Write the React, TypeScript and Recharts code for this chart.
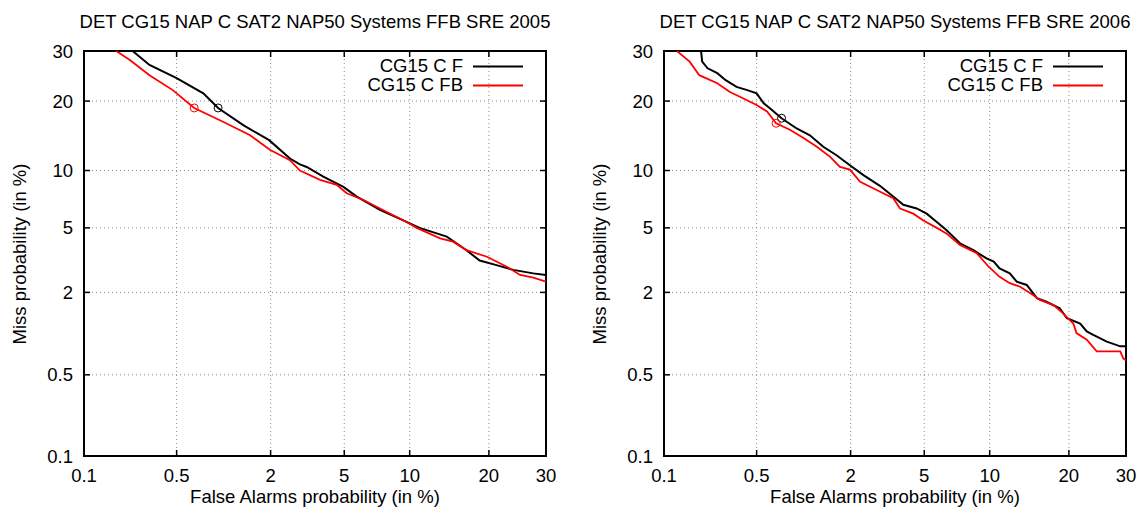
import React from "react";
import {
  ComposedChart,
  Line,
  Scatter,
  XAxis,
  YAxis,
  CartesianGrid,
  ReferenceArea,
  ReferenceLine,
} from "recharts";

// probability labels (in %) used on both axes
const TICK_LABELS = [0.1, 0.5, 2, 5, 10, 20, 30];

// SRE 2005 — false alarm % / miss %
const fa05F = [0.24, 0.32, 0.5, 0.76, 0.95, 1.37, 1.96, 2.58, 2.93, 3.19, 3.91, 4.95, 5.76, 7.4, 9.7, 11.0, 14.1, 16.7, 18.6, 21.2, 24.0, 27.6, 30];
const miss05F = [30, 27.0, 24.3, 21.4, 18.8, 16.0, 13.8, 11.4, 10.7, 10.4, 9.33, 8.3, 7.4, 6.3, 5.4, 5.0, 4.45, 3.7, 3.2, 3.0, 2.8, 2.66, 2.6];
const fa05FB = [0.18, 0.23, 0.32, 0.47, 0.66, 1.03, 1.51, 1.98, 2.58, 2.93, 3.76, 4.58, 5.14, 6.2, 7.4, 9.7, 10.7, 13.3, 14.9, 16.7, 19.7, 22.9, 25.2, 27.6, 30];
const miss05FB = [30, 28.0, 24.9, 22.0, 18.8, 16.5, 14.5, 12.5, 11.2, 10.0, 9.0, 8.5, 7.7, 7.1, 6.4, 5.4, 5.0, 4.35, 4.16, 3.7, 3.38, 2.93, 2.6, 2.5, 2.35];

// SRE 2006
const fa06F = [0.196, 0.2, 0.22, 0.26, 0.3, 0.36, 0.43, 0.5, 0.56, 0.62, 0.74, 0.93, 1.13, 1.37, 1.65, 1.98, 2.37, 2.93, 3.46, 3.91, 4.58, 5.14, 5.76, 6.4, 7.4, 8.5, 9.7, 10.4, 11.0, 12.1, 12.9, 14.1, 15.4, 16.7, 18.6, 19.7, 21.8, 22.9, 24.0, 26.4, 28.9, 30];
const miss06F = [30, 27.7, 26.3, 25.3, 23.9, 22.6, 22.0, 21.4, 19.6, 18.7, 17.1, 15.5, 14.5, 12.9, 11.8, 10.6, 9.5, 8.4, 7.4, 6.7, 6.4, 6.0, 5.4, 4.86, 4.07, 3.7, 3.3, 3.15, 2.86, 2.66, 2.35, 2.24, 1.83, 1.73, 1.56, 1.33, 1.22, 1.07, 1.01, 0.9, 0.83, 0.83];
const fa06FB = [0.127, 0.16, 0.19, 0.26, 0.32, 0.4, 0.5, 0.59, 0.68, 0.84, 1.03, 1.25, 1.51, 1.73, 1.98, 2.27, 2.81, 3.46, 3.76, 4.4, 4.95, 5.76, 6.4, 7.4, 8.8, 9.9, 11.0, 12.1, 13.3, 14.9, 15.8, 17.7, 19.1, 20.7, 21.2, 22.9, 24.6, 28.9, 29.5, 30];
const miss06FB = [30, 27.7, 24.9, 23.3, 21.7, 20.5, 19.3, 18.2, 16.3, 15.3, 14.1, 12.9, 11.6, 10.4, 10.1, 8.8, 8.0, 7.25, 6.4, 6.0, 5.5, 5.0, 4.65, 3.98, 3.55, 2.93, 2.53, 2.3, 2.18, 1.92, 1.78, 1.64, 1.44, 1.22, 1.04, 0.93, 0.76, 0.76, 0.67, 0.65];

// min-cost operating points (circles)
const dcf05 = { F: [0.95, 18.8], FB: [0.66, 18.8] };
const dcf06 = { F: [0.74, 17.1], FB: [0.68, 16.3] };

const FONT = "'Liberation Sans', Arial, Helvetica, sans-serif";
const FS = 18.5;

// inverse normal CDF (Acklam), input in percent
function probit(pct: number): number {
  const p = pct / 100;
  const a = [-39.69683028665376, 220.9460984245205, -275.9285104469687, 138.357751867269, -30.66479806614716, 2.506628277459239];
  const b = [-54.47609879822406, 161.5858368580409, -155.6989798598866, 66.80131188771972, -13.28068155288572];
  const c = [-0.007784894002430293, -0.3223964580411365, -2.400758277161838, -2.549732539343734, 4.374664141464968, 2.938163982698783];
  const d = [0.007784695709041462, 0.3224671290700398, 2.445134137142996, 3.754408661907416];
  const pLow = 0.02425;
  if (p < pLow) {
    const q = Math.sqrt(-2 * Math.log(p));
    return (((((c[0] * q + c[1]) * q + c[2]) * q + c[3]) * q + c[4]) * q + c[5]) /
      ((((d[0] * q + d[1]) * q + d[2]) * q + d[3]) * q + 1);
  }
  if (p <= 1 - pLow) {
    const q = p - 0.5;
    const r = q * q;
    return ((((((a[0] * r + a[1]) * r + a[2]) * r + a[3]) * r + a[4]) * r + a[5]) * q) /
      (((((b[0] * r + b[1]) * r + b[2]) * r + b[3]) * r + b[4]) * r + 1);
  }
  const q = Math.sqrt(-2 * Math.log(1 - p));
  return -(((((c[0] * q + c[1]) * q + c[2]) * q + c[3]) * q + c[4]) * q + c[5]) /
    ((((d[0] * q + d[1]) * q + d[2]) * q + d[3]) * q + 1);
}

const TICKS = TICK_LABELS.map(probit);
const LO = TICKS[0];
const HI = TICKS[TICKS.length - 1];
const fmt = (v: number) => {
  const i = TICKS.findIndex((t) => Math.abs(t - v) < 1e-6);
  return i >= 0 ? String(TICK_LABELS[i]) : "";
};

const toPoints = (fa: number[], miss: number[]) =>
  fa.map((f, i) => ({ x: probit(f), y: probit(miss[i]) }));

const PLOT_TOP = 51;
const PLOT_BOTTOM = 456;
const PLOT_W = 462;
const PLOT_H = PLOT_BOTTOM - PLOT_TOP;
const TICK_PX = 6;

type PanelProps = {
  title: string;
  x0: number;
  width: number;
  plotLeft: number;
  f: { x: number; y: number }[];
  fb: { x: number; y: number }[];
  dcf: { F: number[]; FB: number[] };
};

function Marker(props: any) {
  const { cx, cy, fill } = props;
  if (cx == null || cy == null) return null;
  return <circle cx={cx} cy={cy} r={4} fill="none" stroke={fill} strokeWidth={1} />;
}

function DetPanel({ title, x0, width, plotLeft, f, fb, dcf }: PanelProps) {
  const yAxisW = 40;
  const dy = (TICK_PX * (HI - LO)) / PLOT_H;
  const dx = (TICK_PX * (HI - LO)) / PLOT_W;
  const inner = TICKS.slice(1, -1);
  const centerX = plotLeft + PLOT_W / 2;
  const text = { fontFamily: FONT, fontSize: FS, lineHeight: "22px", color: "#000" };

  return (
    <div style={{ position: "absolute", left: x0, top: 0, width, height: 513 }}>
      <ComposedChart
        width={width}
        height={513}
        margin={{ top: PLOT_TOP, right: width - plotLeft - PLOT_W, bottom: 27, left: plotLeft - yAxisW }}
      >
        <CartesianGrid stroke="#8a8a8a" strokeDasharray="1 3" />
        <XAxis
          type="number"
          dataKey="x"
          domain={[LO, HI]}
          ticks={TICKS}
          tickFormatter={fmt}
          allowDataOverflow
          axisLine={false}
          tickLine={false}
          height={30}
          tickMargin={7}
          tick={{ fill: "#000", fontSize: FS, fontFamily: FONT }}
        />
        <YAxis
          type="number"
          dataKey="y"
          domain={[LO, HI]}
          ticks={TICKS}
          tickFormatter={fmt}
          allowDataOverflow
          axisLine={false}
          tickLine={false}
          width={yAxisW}
          tickMargin={5}
          tick={{ fill: "#000", fontSize: FS, fontFamily: FONT }}
        />
        <ReferenceArea x1={LO} x2={HI} y1={LO} y2={HI} fill="none" stroke="#000" strokeWidth={2} />
        {inner.map((t) => (
          <ReferenceLine key={"b" + t} segment={[{ x: t, y: LO }, { x: t, y: LO + dy }]} stroke="#000" strokeWidth={1.5} />
        ))}
        {inner.map((t) => (
          <ReferenceLine key={"t" + t} segment={[{ x: t, y: HI }, { x: t, y: HI - dy }]} stroke="#000" strokeWidth={1.5} />
        ))}
        {inner.map((t) => (
          <ReferenceLine key={"l" + t} segment={[{ x: LO, y: t }, { x: LO + dx, y: t }]} stroke="#000" strokeWidth={1.5} />
        ))}
        {inner.map((t) => (
          <ReferenceLine key={"r" + t} segment={[{ x: HI, y: t }, { x: HI - dx, y: t }]} stroke="#000" strokeWidth={1.5} />
        ))}
        <Line data={f} dataKey="y" type="linear" stroke="#000" strokeWidth={2} dot={false} isAnimationActive={false} />
        <Line data={fb} dataKey="y" type="linear" stroke="#ff0000" strokeWidth={1.8} dot={false} isAnimationActive={false} />
        <Scatter
          data={[{ x: probit(dcf.F[0]), y: probit(dcf.F[1]) }]}
          fill="#000"
          shape={Marker}
          isAnimationActive={false}
        />
        <Scatter
          data={[{ x: probit(dcf.FB[0]), y: probit(dcf.FB[1]) }]}
          fill="#ff0000"
          shape={Marker}
          isAnimationActive={false}
        />
      </ComposedChart>

      <div style={{ ...text, position: "absolute", left: centerX - 300, width: 600, top: 11, textAlign: "center", whiteSpace: "nowrap" }}>
        {title}
      </div>
      <div style={{ ...text, position: "absolute", left: centerX - 200, width: 400, top: 486, textAlign: "center" }}>
        False Alarms probability (in %)
      </div>
      <div
        style={{
          ...text,
          position: "absolute",
          left: plotLeft - 64 - 150,
          top: PLOT_TOP + PLOT_H / 2 - 11,
          width: 300,
          textAlign: "center",
          transform: "rotate(-90deg)",
        }}
      >
        Miss probability (in %)
      </div>

      {[
        { name: "CG15 C F", color: "#000", top: 55 },
        { name: "CG15 C FB", color: "#ff0000", top: 74 },
      ].map((row) => (
        <div key={row.name}>
          <div style={{ ...text, position: "absolute", left: plotLeft + 379 - 200, width: 200, top: row.top, textAlign: "right" }}>
            {row.name}
          </div>
          <svg style={{ position: "absolute", left: plotLeft + 389, top: row.top + 10 }} width={50} height={3}>
            <line x1={0} y1={1.5} x2={50} y2={1.5} stroke={row.color} strokeWidth={2} />
          </svg>
        </div>
      ))}
    </div>
  );
}

export default function App() {
  return (
    <div style={{ position: "absolute", left: 0, top: 0, width: 1137, height: 513, background: "#fff" }}>
      <DetPanel
        title="DET CG15 NAP C SAT2 NAP50 Systems FFB SRE 2005"
        x0={0}
        width={570}
        plotLeft={84}
        f={toPoints(fa05F, miss05F)}
        fb={toPoints(fa05FB, miss05FB)}
        dcf={dcf05}
      />
      <DetPanel
        title="DET CG15 NAP C SAT2 NAP50 Systems FFB SRE 2006"
        x0={570}
        width={567}
        plotLeft={94}
        f={toPoints(fa06F, miss06F)}
        fb={toPoints(fa06FB, miss06FB)}
        dcf={dcf06}
      />
    </div>
  );
}
